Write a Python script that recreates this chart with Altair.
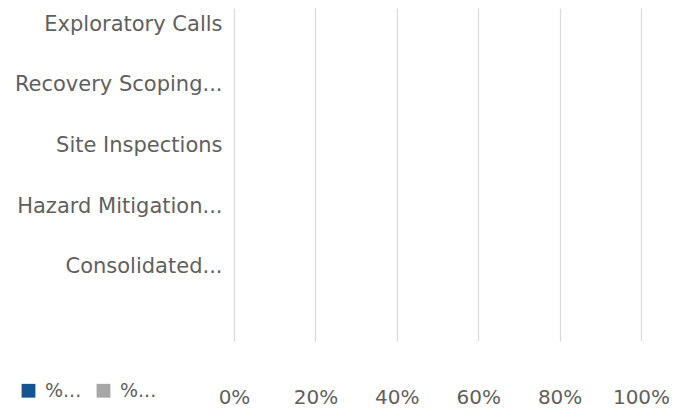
import altair as alt
import pandas as pd

categories = [
    "Exploratory Calls",
    "Recovery Scoping...",
    "Site Inspections",
    "Hazard Mitigation...",
    "Consolidated...",
]
series_names = ["%...", "%... "]
series_colors = ["#15558f", "#a6a6a6"]
values_first = [0, 0, 0, 0, 0]
values_second = [0, 0, 0, 0, 0]
tick_values = [0, 0.2, 0.4, 0.6, 0.8, 1.0]

rows = []
for i, c in enumerate(categories):
    rows.append({"category": c, "series": series_names[0], "value": values_first[i], "order": 0})
    rows.append({"category": c, "series": series_names[1], "value": values_second[i], "order": 1})
df = pd.DataFrame(rows)

FONT = "DejaVu Sans"
TXT = "#5f5f5f"

chart = (
    alt.Chart(df)
    .mark_bar()
    .encode(
        y=alt.Y(
            "category:N",
            sort=categories,
            scale=alt.Scale(paddingInner=0.5, paddingOuter=0.5, align=0.03),
            axis=alt.Axis(
                title=None,
                domain=False,
                ticks=False,
                labelPadding=12,
                labelFont=FONT,
                labelFontSize=21,
                labelColor=TXT,
                labelLimit=300,
            ),
        ),
        x=alt.X(
            "value:Q",
            stack="zero",
            scale=alt.Scale(domain=[0, 1], nice=False),
            axis=alt.Axis(
                title=None,
                format=".0%",
                values=tick_values,
                domain=False,
                ticks=False,
                grid=True,
                gridColor="#d9d9d9",
                gridWidth=1.2,
                labelPadding=46,
                labelFlush=False,
                labelFont=FONT,
                labelFontSize=20,
                labelColor=TXT,
            ),
        ),
        color=alt.Color(
            "series:N",
            scale=alt.Scale(domain=series_names, range=series_colors),
            legend=alt.Legend(
                orient="none",
                legendX=-215,
                legendY=373,
                direction="horizontal",
                title=None,
                symbolType="square",
                symbolSize=190,
                symbolStrokeWidth=0,
                labelFont=FONT,
                labelFontSize=19,
                labelColor=TXT,
                labelOffset=7,
                columnPadding=12,
                padding=0,
                labelLimit=100,
            ),
        ),
        order="order:Q",
    )
    .properties(
        width=407,
        height=333,
        padding={"left": 226, "top": 0, "right": 28, "bottom": 69},
        autosize="none",
        background="white",
    )
    .configure_view(stroke=None)
)

chart.save("out.html", embed_options={"renderer": "svg", "actions": False})
